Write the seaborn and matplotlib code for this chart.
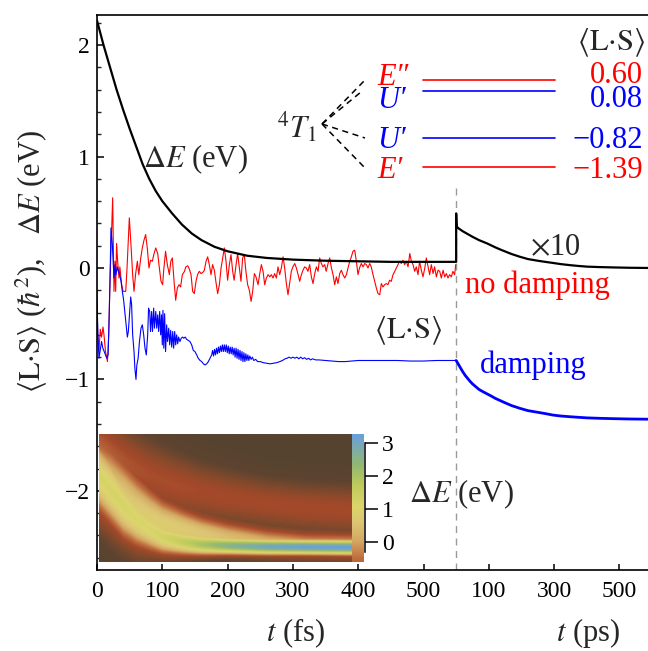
import numpy as np
import pandas as pd
import matplotlib
matplotlib.use("Agg")
import matplotlib.pyplot as plt
import seaborn as sns
from matplotlib.colors import LinearSegmentedColormap
from matplotlib.lines import Line2D

# ---------------- data ----------------
# Delta E (eV), femtosecond part
t_fs_dE = [0, 10, 20, 30, 40, 50, 60, 70, 80, 90, 100, 115, 130, 145, 160, 180,
           200, 230, 260, 300, 350, 400, 450, 500, 550]
dE_fs = [2.22, 2.00, 1.80, 1.60, 1.42, 1.25, 1.09, 0.93, 0.80, 0.69, 0.60, 0.49,
         0.39, 0.31, 0.25, 0.19, 0.15, 0.11, 0.09, 0.075, 0.065, 0.06, 0.055, 0.055, 0.055]
# Delta E x10, picosecond part
t_ps_dE = [0, 0, 1.5, 10, 20, 35, 50, 70, 95, 120, 140, 170, 196, 220, 250, 275, 297,
           320, 350, 375, 401, 440, 480, 530, 590]
dE_ps = [0.055, 0.49, 0.37, 0.35, 0.33, 0.305, 0.28, 0.25, 0.22, 0.185, 0.16, 0.125,
         0.10, 0.08, 0.065, 0.054, 0.045, 0.035, 0.025, 0.018, 0.012, 0.008, 0.005,
         0.002, 0.0]

# <L.S>, no damping (red), fs
t_fs_red = [0, 1, 3, 5, 7, 9.2, 10.7, 13, 16, 18, 20, 22.5, 24, 26, 27.6, 28.6, 30,
            31.6, 33.7, 35, 37.8, 40, 44, 46, 49.5, 52, 54.6, 56.7, 59, 61.8, 64, 67,
            69.4, 72, 74.5, 77, 79.6, 82, 84.7, 87, 90, 93, 95.5, 98, 100.5, 102, 105,
            107.7, 110.8, 113, 115.4, 118, 120.5, 123, 125.6, 128, 130.7, 134, 136, 139,
            141.4, 144, 146.5, 149, 151.6, 154, 156.7, 159.3, 162, 164.4, 167, 169.5,
            172, 174.6, 177, 179.7, 182, 184.8, 187.4, 190, 192.5, 195, 197.6, 200,
            202.7, 205.2, 207.8, 210, 213, 215.4, 218, 220.5, 223, 225.6, 228, 230.7,
            233.3, 236, 238.4, 241, 243.5, 246.6, 249, 251.7, 254.3, 256.8, 259.4, 262,
            264.5, 267, 269.6, 272, 274.7, 277.2, 279.8, 282.3, 285, 287.4, 290, 292.5,
            295, 297.6, 300, 302.8, 305.3, 308, 310.4, 313, 315.5, 318, 320.6, 323,
            325.7, 328.3, 330.8, 333.4, 336, 338.5, 341, 343.6, 346, 348.7, 351, 353.8,
            356.3, 359, 361.5, 364, 366.6, 369, 371.7, 374.2, 376.8, 379.3, 381.9,
            384.4, 387, 389.5, 392, 394.6, 397.2, 399.7, 402, 404.8, 407.4, 410, 412.5,
            415, 417.6, 420, 422.7, 425.2, 427.8, 430.3, 433, 435.4, 438, 440.5, 443,
            445.6, 448, 450.7, 453.3, 456, 458.4, 461, 463.5, 466, 468.6, 471, 473.7,
            476.3, 479, 481.4, 484, 486.5, 489, 491.6, 494, 496.7, 499.2, 502, 504.3,
            507, 509.4, 512, 514.6, 517, 519.7, 522.2, 524.8, 527.3, 530, 532.4, 535,
            537.5, 540, 542.6, 545, 547.7, 549.3]
LS_nodamp = [-0.20, -0.60, -0.75, -0.55, -0.62, -0.53, -0.60, -0.75, -0.84, -0.60, -0.09,
             0.36, 0.63, -0.21, 0.06, -0.21, 0.22, 0.06, -0.09, 0.01, -0.15, -0.21, -0.21,
             0.00, 0.45, 0.21, -0.06, -0.21, -0.06, 0.06, -0.06, 0.09, 0.18, 0.25, 0.30,
             0.18, 0.00, 0.07, 0.06, 0.12, 0.18, 0.13, 0.00, -0.12, -0.15, -0.03, 0.15,
             0.03, -0.06, 0.06, 0.09, -0.12, -0.29, -0.18, -0.15, -0.17, -0.06, -0.03,
             0.01, 0.02, -0.01, -0.06, -0.21, -0.23, -0.12, -0.06, -0.03, -0.05, -0.04,
             -0.02, 0.06, 0.10, 0.03, -0.06, 0.03, -0.02, -0.12, -0.23, -0.15, 0.00, 0.09,
             0.18, 0.06, -0.11, 0.03, 0.12, -0.03, -0.11, 0.03, 0.13, 0.00, -0.12, 0.09,
             0.12, -0.03, -0.15, -0.20, -0.30, -0.21, -0.05, -0.08, -0.15, -0.06, 0.03,
             -0.03, -0.15, -0.09, -0.06, -0.08, -0.06, -0.09, -0.05, -0.09, 0.01, -0.06,
             0.00, 0.10, 0.00, -0.14, -0.24, -0.14, -0.03, 0.01, 0.04, 0.00, -0.06, -0.12,
             -0.06, -0.02, 0.01, 0.00, -0.03, 0.03, -0.08, -0.14, -0.05, 0.01, -0.03, 0.09,
             0.04, 0.01, 0.03, -0.03, 0.04, 0.09, 0.00, -0.06, -0.15, -0.08, -0.14, -0.05,
             -0.02, -0.06, -0.09, -0.06, 0.00, 0.06, 0.10, 0.15, 0.16, 0.06, -0.06, 0.00,
             0.04, 0.01, 0.04, 0.03, 0.00, 0.04, 0.01, -0.06, -0.12, -0.18, -0.23, -0.24,
             -0.14, -0.17, -0.15, -0.14, -0.15, -0.11, -0.12, -0.06, -0.03, 0.00, 0.03,
             0.06, 0.04, 0.07, 0.03, 0.06, 0.01, 0.13, 0.06, 0.03, -0.03, 0.01, -0.06,
             0.06, -0.02, -0.08, 0.00, 0.09, 0.01, -0.06, 0.03, -0.05, 0.01, -0.08, -0.02,
             -0.03, -0.09, -0.02, -0.08, -0.05, -0.09, -0.06, -0.08, -0.03, -0.06, 0.03]

# <L.S>, damping (blue), fs
t_fs_blue = [0, 1.5, 3, 4.6, 7, 9, 11, 13, 15, 17, 18.4, 20, 21.4, 23.5, 26, 27.6, 29,
             31, 32.7, 34.7, 36.8, 38.8, 40.8, 43, 45, 46.5, 48, 50, 51.6, 53, 54.6, 56.7,
             58, 59.7, 61, 63, 65, 67.4, 69.4, 71.5, 73.5, 75.5, 77.6, 79, 80.7, 82, 83.7,
             85, 86.8, 88, 90, 91.4, 93, 94.4, 96, 97.5, 98.8, 100, 101, 102.3, 103.6, 105,
             106.7, 108, 109.8, 111.3, 112.8, 114.4, 116, 117.4, 119, 120.5, 122, 123.6,
             125, 127, 129, 131, 133, 135, 137.3, 140, 142.4, 145, 147.5, 150, 152.7, 155,
             157.8, 160.3, 163, 165.4, 168, 170.5, 173, 175.6, 177, 178.5, 180, 181.5, 183,
             184.5, 186, 187.5, 189, 190.5, 192, 193.5, 195, 196.5, 198, 199.5, 201, 202.5,
             204, 205.5, 207, 208.5, 210, 211.5, 213, 214.5, 216, 217.5, 219, 220.5, 222,
             223.5, 225, 226.5, 228, 229.5, 231, 232.5, 234, 236, 238, 240, 243, 246, 250,
             255, 260, 265, 270, 275, 280, 284, 288, 291, 294, 297, 300, 303, 306, 309, 312,
             315, 318, 321, 324, 327, 330, 335, 340, 350, 360, 370, 380, 390, 400, 420, 440,
             460, 480, 500, 520, 540, 550]
LS_damp = [-0.30, -0.60, -0.81, -0.75, -0.66, -0.72, -0.75, -0.78, -0.81, -0.78, -0.48,
           -0.09, 0.36, 0.21, -0.09, 0.03, -0.06, 0.01, -0.03, -0.06, -0.12, -0.21, -0.29,
           -0.42, -0.54, -0.62, -0.57, -0.39, -0.26, -0.33, -0.60, -0.75, -0.90, -1.00,
           -0.87, -0.81, -0.66, -0.54, -0.51, -0.60, -0.72, -0.78, -0.60, -0.36, -0.39,
           -0.57, -0.39, -0.57, -0.36, -0.54, -0.39, -0.54, -0.42, -0.57, -0.39, -0.60,
           -0.42, -0.69, -0.38, -0.72, -0.41, -0.75, -0.51, -0.66, -0.54, -0.69, -0.56,
           -0.71, -0.57, -0.72, -0.57, -0.69, -0.60, -0.68, -0.62, -0.66, -0.63, -0.62,
           -0.63, -0.62, -0.64, -0.65, -0.66, -0.69, -0.74, -0.75, -0.78, -0.81, -0.83,
           -0.84, -0.86, -0.87, -0.86, -0.84, -0.81, -0.78, -0.74, -0.79, -0.73, -0.78,
           -0.72, -0.77, -0.71, -0.76, -0.70, -0.75, -0.69, -0.75, -0.69, -0.75, -0.69,
           -0.76, -0.70, -0.77, -0.71, -0.77, -0.71, -0.78, -0.72, -0.80, -0.72, -0.81,
           -0.73, -0.82, -0.74, -0.83, -0.75, -0.84, -0.76, -0.84, -0.77, -0.83, -0.78,
           -0.83, -0.79, -0.82, -0.80, -0.83, -0.82, -0.84, -0.84, -0.85, -0.855, -0.86,
           -0.855, -0.85, -0.84, -0.83, -0.815, -0.81, -0.80, -0.81, -0.80, -0.81, -0.80,
           -0.815, -0.80, -0.815, -0.805, -0.82, -0.81, -0.825, -0.815, -0.825, -0.825,
           -0.83, -0.835, -0.84, -0.84, -0.835, -0.83, -0.83, -0.83, -0.83, -0.835,
           -0.835, -0.83, -0.83, -0.83]
# <L.S>, damping (blue), ps
t_ps_blue = [0, 5, 10, 15, 20, 28, 35, 42, 50, 60, 70, 82, 95, 108, 120, 135, 150, 170,
             196, 220, 250, 270, 297, 320, 350, 375, 401, 440, 480, 530, 590]
LS_damp_ps = [-0.83, -0.855, -0.88, -0.905, -0.93, -0.965, -0.99, -1.015, -1.04, -1.065,
              -1.09, -1.11, -1.13, -1.15, -1.17, -1.19, -1.21, -1.235, -1.26, -1.28,
              -1.295, -1.305, -1.32, -1.328, -1.335, -1.34, -1.345, -1.349, -1.352,
              -1.355, -1.357]

# level scheme of 4T1
level_names = ["E\u2033", "U\u2032", "U\u2032", "E\u2032"]
level_LS = [0.60, 0.08, -0.82, -1.39]
level_colors = ["red", "blue", "blue", "red"]

# axis ticks
fs_ticks = [0, 100, 200, 300, 400, 500]
ps_ticks = [100, 300, 500]
cb_ticks = [0, 1, 2, 3]
BREAK_FS = 550

# inset density map: band parameters vs time (fs)
hm_t = [0, 20, 40, 60, 80, 100, 130, 160, 200, 260, 320, 390]
hm_center = [2.05, 1.60, 1.10, 0.70, 0.40, 0.15, 0.00, -0.08, -0.12, -0.15, -0.16, -0.17]
hm_width = [0.90, 0.90, 0.85, 0.72, 0.58, 0.45, 0.34, 0.27, 0.22, 0.20, 0.19, 0.19]
hm_peak = [0.68, 0.68, 0.68, 0.67, 0.67, 0.69, 0.74, 0.81, 0.89, 0.96, 0.99, 1.00]
hm_skirt_c = [2.05, 1.70, 1.30, 0.95, 0.70, 0.52, 0.38, 0.25, 0.12, -0.02, -0.10, -0.12]
hm_skirt_w = [1.10, 1.10, 1.05, 0.95, 0.82, 0.68, 0.55, 0.47, 0.42, 0.37, 0.34, 0.34]
hm_skirt_a = [0.56, 0.58, 0.60, 0.61, 0.62, 0.62, 0.61, 0.59, 0.56, 0.53, 0.52, 0.52]
hm_halo_c = [2.80, 2.60, 2.40, 2.20, 2.00, 1.85, 1.65, 1.50, 1.35, 1.15, 1.02, 0.95]
hm_halo_w = [0.95, 0.95, 0.90, 0.85, 0.85, 0.80, 0.75, 0.70, 0.65, 0.60, 0.60, 0.60]
hm_halo_a = [0.40, 0.38, 0.36, 0.35, 0.34, 0.34, 0.34, 0.33, 0.33, 0.33, 0.33, 0.33]
hm_trange = (3, 390)
hm_erange = (-0.61, 3.27)


def ps2x(ps):
    return BREAK_FS + np.asarray(ps, float) / 2.0


# ---------------- style ----------------
sns.set_theme(style="ticks")
plt.rcParams["font.family"] = ["Liberation Serif", "DejaVu Serif"]
plt.rcParams["mathtext.fontset"] = "stix"
plt.rcParams["axes.unicode_minus"] = True

W, H = 648, 651
fig = plt.figure(figsize=(W / 100, H / 100), dpi=100)
fig.patch.set_facecolor("white")


def fx(X):
    return X / W


def fy(Y):
    return 1 - Y / H


ax = fig.add_axes([fx(97), fy(570), fx(648) - fx(97), fy(15) - fy(570)])
ax.set_facecolor("white")
ax.set_xlim(0, 551 / 0.653)
ax.set_ylim(-2.71, 2.27)

# ---------------- lines ----------------
df_red = pd.DataFrame({"t": t_fs_red, "v": LS_nodamp})
df_blue = pd.DataFrame({"t": t_fs_blue, "v": LS_damp})
df_blue_ps = pd.DataFrame({"t": ps2x(t_ps_blue), "v": LS_damp_ps})
df_black = pd.DataFrame({"t": np.concatenate([np.asarray(t_fs_dE, float), ps2x(t_ps_dE)]),
                         "v": np.concatenate([dE_fs, dE_ps])})

sns.lineplot(data=df_red, x="t", y="v", sort=False, estimator=None, color="red", lw=0.8, ax=ax)
sns.lineplot(data=df_blue, x="t", y="v", sort=False, estimator=None, color="blue", lw=0.8, ax=ax)
sns.lineplot(data=df_blue_ps, x="t", y="v", sort=False, estimator=None, color="blue", lw=2.0, ax=ax)
sns.lineplot(data=df_black, x="t", y="v", sort=False, estimator=None, color="black", lw=1.6, ax=ax)

ax.axvline(BREAK_FS, ymin=0, ymax=(0.72 + 2.71) / 4.98, color="#9a9a9a", lw=1.0,
           ls=(0, (5, 4)), zorder=1)

# ---------------- axes styling ----------------
ax.set_xlabel("")
ax.set_ylabel("")
ax.set_xticks(list(fs_ticks) + list(ps2x(ps_ticks)))
ax.set_xticklabels([str(v) for v in fs_ticks] + [str(v) for v in ps_ticks])
ax.set_yticks([-2, -1, 0, 1, 2])
ax.set_yticklabels(["\u22122", "\u22121", "0", "1", "2"])
ax.set_yticks(np.arange(-2.6, 2.21, 0.2), minor=True)
ax.tick_params(axis="x", which="major", direction="in", length=4.5, width=1.1,
               labelsize=17, pad=8, colors="black")
ax.tick_params(axis="x", which="minor", bottom=False)
ax.tick_params(axis="y", which="major", direction="in", length=5, width=1.1,
               labelsize=17, pad=5, colors="black")
ax.tick_params(axis="y", which="minor", direction="in", length=3, width=1.0, left=True)
for s in ["left", "bottom", "top"]:
    ax.spines[s].set_linewidth(1.2)
    ax.spines[s].set_color("black")
ax.spines["right"].set_visible(False)

# ---------------- inset density map ----------------
cm_pos = [0.0, 0.12, 0.25, 0.33, 0.42, 0.50, 0.58, 0.66, 0.76, 0.86, 1.0]
cm_col = ["#55432f", "#5f4430", "#8a4a2b", "#a4492a", "#bf7040", "#d4a862",
          "#dcc474", "#dcd66c", "#bfcb5a", "#92b874", "#68a0dc"]
cmap = LinearSegmentedColormap.from_list("sandy", list(zip(cm_pos, cm_col)))

tt = np.linspace(hm_trange[0], hm_trange[1], 400)
ee = np.linspace(hm_erange[0], hm_erange[1], 320)
TT, EE = np.meshgrid(tt, ee)


def p(arr):
    return np.interp(TT, hm_t, arr)


core = p(hm_peak) * np.exp(-0.5 * ((EE - p(hm_center)) / p(hm_width)) ** 2)
skirt = p(hm_skirt_a) * np.exp(-0.5 * ((EE - p(hm_skirt_c)) / p(hm_skirt_w)) ** 2)
halo = p(hm_halo_a) * np.exp(-0.5 * ((EE - p(hm_halo_c)) / p(hm_halo_w)) ** 2)
Z = np.maximum(np.maximum(core, skirt), halo)

ax_in = fig.add_axes([fx(99), fy(562), fx(352) - fx(99), fy(434) - fy(562)])
ax_in.imshow(Z, origin="lower", aspect="auto", cmap=cmap, vmin=0, vmax=1,
             extent=[hm_trange[0], hm_trange[1], hm_erange[0], hm_erange[1]],
             interpolation="bilinear")
ax_in.axis("off")

ax_cb = fig.add_axes([fx(352), fy(562), fx(363) - fx(352), fy(434) - fy(562)])
grad = np.linspace(hm_erange[0], hm_erange[1], 256)
gval = 0.40 + (grad - hm_erange[0]) / (hm_erange[1] - hm_erange[0]) * 0.60
ax_cb.imshow(gval[:, None], origin="lower", aspect="auto", cmap=cmap, vmin=0, vmax=1,
             extent=[0, 1, hm_erange[0], hm_erange[1]])
ax_cb.set_ylim(*hm_erange)
ax_cb.set_xticks([])
ax_cb.yaxis.tick_right()
ax_cb.set_yticks(cb_ticks)
ax_cb.set_yticklabels([str(v) for v in cb_ticks])
ax_cb.tick_params(axis="y", direction="out", length=9, width=1.1, labelsize=17, pad=3,
                  colors="black")
for s in ["left", "top", "bottom"]:
    ax_cb.spines[s].set_visible(False)
ax_cb.spines["right"].set_position(("outward", 1.5))
ax_cb.spines["right"].set_bounds(-0.3, 3.0)
ax_cb.spines["right"].set_linewidth(1.1)
ax_cb.spines["right"].set_color("black")

# ---------------- annotations ----------------
FS = 22
LS_txt = r"$\langle\mathrm{L{\cdot}S}\rangle$"

fig.text(fx(143), fy(167), r"$\Delta E$ (eV)", fontsize=FS, ha="left", va="baseline")
fig.text(fx(277), fy(137), r"$^4T_1$", fontsize=FS, ha="left", va="baseline")
fig.text(fx(645), fy(50), LS_txt, fontsize=FS, ha="right", va="baseline")

apex = (322, 124)
dash_ends = [(365, 80), (361, 92), (365, 138), (365, 168)]
line_Y = [80, 91, 138, 167]
name_base = [85, 108, 148, 178]
val_base = [83, 107, 148, 178]
for i in range(4):
    fig.add_artist(Line2D([fx(apex[0]), fx(dash_ends[i][0])],
                          [fy(apex[1]), fy(dash_ends[i][1])],
                          transform=fig.transFigure, color="black", lw=1.1,
                          ls=(0, (4, 3))))
    fig.add_artist(Line2D([fx(423), fx(555)], [fy(line_Y[i]), fy(line_Y[i])],
                          transform=fig.transFigure, color=level_colors[i], lw=1.2))
    fig.text(fx(377), fy(name_base[i]), level_names[i], fontsize=FS, fontstyle="italic",
             color=level_colors[i], ha="left", va="baseline")
    fig.text(fx(643), fy(val_base[i]), f"{level_LS[i]:.2f}".replace("-", "\u2212"),
             fontsize=FS, color=level_colors[i], ha="right", va="baseline")

fig.text(fx(530), fy(255), r"$\times$10", fontsize=FS, ha="left", va="baseline")
fig.text(fx(465), fy(293), "no damping", fontsize=FS, color="red", ha="left", va="baseline")
fig.text(fx(408), fy(338), LS_txt, fontsize=FS, ha="center", va="baseline")
fig.text(fx(480), fy(373), "damping", fontsize=FS, color="blue", ha="left", va="baseline")
fig.text(fx(409), fy(502), r"$\Delta E$ (eV)", fontsize=FS, ha="left", va="baseline")

fig.text(fx(296), fy(641), r"$t$ (fs)", fontsize=FS, ha="center", va="baseline")
fig.text(fx(588), fy(641), r"$t$ (ps)", fontsize=FS, ha="center", va="baseline")
fig.text(fx(31), fy(262),
         LS_txt + r" ($\hbar^2$),   $\Delta E$ (eV)",
         fontsize=FS, rotation=90, ha="center", va="center")

fig.savefig("out.png", dpi=100, facecolor="white")
